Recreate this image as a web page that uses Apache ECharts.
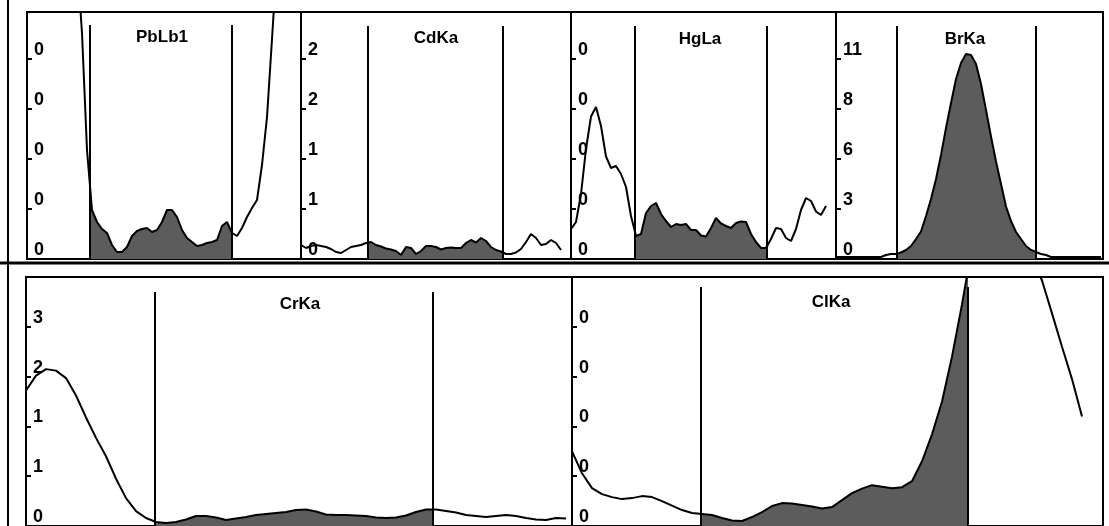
<!doctype html>
<html lang="en">
<head>
    <meta charset="UTF-8">
    <title>ROI spectra</title>
    <style>html,body{margin:0;padding:0;background:#fff;}</style>
</head>
<body>
    <div id="main" style="width:1109px;height:526px;"></div>
    <script src="https://cdn.jsdelivr.net/npm/echarts@6/dist/echarts.min.js"></script>
    <script>
        // counts per channel step, in units of one axis tick (values off scale run past the top)
        var pbCounts = [6, 6, 6, 6, 6, 6, 6, 6, 6, 6, 6, 4.52, 2.18, 0.98, 0.74, 0.6, 0.52, 0.28, 0.14, 0.14,
            0.24, 0.46, 0.56, 0.6, 0.62, 0.54, 0.58, 0.74, 0.98, 0.98, 0.84, 0.58, 0.42, 0.34, 0.26, 0.28,
            0.32, 0.34, 0.38, 0.66, 0.74, 0.52, 0.46, 0.62, 0.84, 1.02, 1.18, 1.88, 2.84, 4.4, 6, 6, 6, 6, 6];
        var cdCounts = [0.28, 0.22, 0.26, 0.28, 0.26, 0.24, 0.2, 0.14, 0.12, 0.18, 0.24, 0.26, 0.28, 0.32,
            0.34, 0.28, 0.25, 0.21, 0.19, 0.16, 0.08, 0.24, 0.22, 0.1, 0.16, 0.26, 0.26, 0.24, 0.19, 0.22,
            0.23, 0.22, 0.22, 0.32, 0.38, 0.33, 0.42, 0.36, 0.24, 0.18, 0.15, 0.1, 0.1, 0.13, 0.2, 0.34,
            0.5, 0.42, 0.28, 0.3, 0.38, 0.32, 0.18];
        var hgCounts = [0.6, 0.74, 1.3, 2.2, 2.85, 3.04, 2.66, 2.05, 1.82, 1.86, 1.7, 1.44, 0.86, 0.46, 0.5,
            0.92, 1.06, 1.12, 0.9, 0.76, 0.64, 0.7, 0.68, 0.7, 0.58, 0.58, 0.47, 0.45, 0.62, 0.82, 0.71,
            0.66, 0.62, 0.72, 0.75, 0.74, 0.5, 0.34, 0.22, 0.22, 0.4, 0.62, 0.6, 0.42, 0.36, 0.6, 0.98,
            1.22, 1.16, 0.95, 0.88, 1.06];
        var brCounts = [0.04, 0.04, 0.04, 0.04, 0.04, 0.04, 0.04, 0.04, 0.04, 0.04, 0.08, 0.1, 0.1, 0.13,
            0.18, 0.26, 0.4, 0.55, 0.86, 1.2, 1.6, 2.08, 2.62, 3.12, 3.6, 3.92, 4.1, 4.08, 3.9, 3.5, 2.98,
            2.45, 1.95, 1.5, 1.05, 0.76, 0.54, 0.4, 0.26, 0.18, 0.14, 0.1, 0.08, 0.04, 0.04, 0.04, 0.04,
            0.04, 0.04, 0.04, 0.04, 0.04, 0.04, 0.04];
        var crCounts = [2.72, 3.02, 3.15, 3.12, 2.97, 2.62, 2.18, 1.77, 1.4, 0.95, 0.56, 0.3, 0.16, 0.08,
            0.06, 0.08, 0.13, 0.2, 0.2, 0.17, 0.12, 0.15, 0.18, 0.22, 0.24, 0.26, 0.28, 0.32, 0.33, 0.29,
            0.23, 0.22, 0.22, 0.21, 0.2, 0.17, 0.16, 0.17, 0.21, 0.28, 0.33, 0.33, 0.3, 0.27, 0.22, 0.2,
            0.18, 0.2, 0.22, 0.2, 0.16, 0.13, 0.12, 0.16, 0.15];
        var clCounts = [1.5, 1.06, 0.76, 0.64, 0.58, 0.54, 0.56, 0.6, 0.58, 0.5, 0.41, 0.32, 0.26, 0.24,
            0.22, 0.16, 0.11, 0.1, 0.18, 0.28, 0.4, 0.46, 0.45, 0.42, 0.39, 0.35, 0.38, 0.52, 0.66, 0.75,
            0.82, 0.79, 0.76, 0.78, 0.9, 1.3, 1.84, 2.5, 3.4, 4.45, 5.6, 6.5, 7, 7, 6.6, 6, 5.4, 4.93,
            4.27, 3.6, 2.95, 2.2];

        // region of interest bounds, in channel steps
        var pbRoi = [12.6, 41];
        var cdRoi = [13.4, 40.4];
        var hgRoi = [12.8, 39.2];
        var brRoi = [12.2, 40];
        var crRoi = [12.9, 40.7];
        var clRoi = [12.9, 39.6];

        // tick labels from bottom to top, as printed on the screen
        var pbTicks = ['0', '0', '0', '0', '0'];
        var cdTicks = ['0', '1', '1', '2', '2'];
        var hgTicks = ['0', '0', '0', '0', '0'];
        var brTicks = ['0', '3', '6', '8', '11'];
        var crTicks = ['0', '1', '1', '2', '3'];
        var clTicks = ['0', '0', '0', '0', '0'];

        var lineNames = ['PbLb1', 'CdKa', 'HgLa', 'BrKa', 'CrKa', 'ClKa'];

        var panels = [
            { counts: pbCounts, roi: pbRoi, ticks: pbTicks, left: 27, top: 12, width: 274, height: 247, step: 5, yMax: 4.94, markTop: 4.68, tx: 162, ty: 37 },
            { counts: cdCounts, roi: cdRoi, ticks: cdTicks, left: 301, top: 12, width: 270, height: 247, step: 5, yMax: 4.94, markTop: 4.66, tx: 436, ty: 38 },
            { counts: hgCounts, roi: hgRoi, ticks: hgTicks, left: 571, top: 12, width: 265, height: 247, step: 5, yMax: 4.94, markTop: 4.66, tx: 700, ty: 39 },
            { counts: brCounts, roi: brRoi, ticks: brTicks, left: 836, top: 12, width: 267, height: 247, step: 5, yMax: 4.94, markTop: 4.66, tx: 965, ty: 39 },
            { counts: crCounts, roi: crRoi, ticks: crTicks, left: 26, top: 277, width: 546, height: 251, step: 10, yMax: 5, markTop: 4.7, tx: 300, ty: 304 },
            { counts: clCounts, roi: clRoi, ticks: clTicks, left: 572, top: 277, width: 531, height: 251, step: 10, yMax: 5, markTop: 4.8, tx: 831, ty: 302 }
        ];

        var font = '"Liberation Sans", Arial, sans-serif';
        var fillGrey = '#5c5c5c';

        var myChart = echarts.init(document.getElementById('main'));

        var grid = [], xAxis = [], yAxis = [], series = [], visualMap = [], graphic = [];

        panels.forEach(function (p, k) {
            var data = p.counts.map(function (v, i) { return [i, v]; });
            grid.push({
                left: p.left, top: p.top, width: p.width, height: p.height,
                show: true, backgroundColor: '#fff', borderColor: '#000', borderWidth: 2
            });
            xAxis.push({ type: 'value', gridIndex: k, min: 0, max: p.width / p.step, show: false });
            yAxis.push({
                type: 'value', gridIndex: k, min: 0, max: p.yMax, interval: 1,
                axisLine: { show: false },
                splitLine: { show: false },
                axisTick: { show: true, inside: true, length: 5, lineStyle: { color: '#000', width: 2 } },
                axisLabel: {
                    inside: true, margin: 7, align: 'left', verticalAlign: 'bottom',
                    color: '#000', fontSize: 18, fontWeight: 'bold', fontFamily: font,
                    formatter: function (v) {
                        var n = Math.round(v);
                        return Math.abs(v - n) < 1e-6 && p.ticks[n] !== undefined ? p.ticks[n] : '';
                    }
                }
            });
            // filled part (only inside the ROI, via visualMap)
            series.push({
                type: 'line', xAxisIndex: k, yAxisIndex: k, data: data,
                showSymbol: false, silent: true, z: 2,
                lineStyle: { width: 0 },
                areaStyle: { opacity: 1 }
            });
            // spectrum line with ROI markers
            series.push({
                name: lineNames[k],
                type: 'line', xAxisIndex: k, yAxisIndex: k, data: data,
                showSymbol: false, silent: true, z: 3,
                lineStyle: { color: '#000', width: 2 },
                itemStyle: { color: '#000' },
                markLine: {
                    silent: true, symbol: ['none', 'none'], label: { show: false },
                    lineStyle: { color: '#000', width: 2, type: 'solid' },
                    data: p.roi.map(function (r) {
                        return [{ coord: [r, 0] }, { coord: [r, p.markTop] }];
                    })
                }
            });
            visualMap.push({
                type: 'piecewise', show: false, seriesIndex: 2 * k, dimension: 0,
                pieces: [{ gte: p.roi[0], lte: p.roi[1], color: fillGrey }],
                outOfRange: { color: 'rgba(0,0,0,0)' }
            });
            graphic.push({
                type: 'text', x: p.tx, y: p.ty, z: 10,
                style: { text: lineNames[k], fill: '#000', font: 'bold 17px ' + font, align: 'center', verticalAlign: 'middle' }
            });
        });

        // screen frame
        graphic.push({ type: 'line', shape: { x1: 8, y1: 0, x2: 8, y2: 526 }, style: { stroke: '#000', lineWidth: 2 } });
        graphic.push({ type: 'line', shape: { x1: 0, y1: 263, x2: 1109, y2: 263 }, style: { stroke: '#000', lineWidth: 3 } });

        option = {
            animation: false,
            backgroundColor: '#fff',
            grid: grid,
            xAxis: xAxis,
            yAxis: yAxis,
            visualMap: visualMap,
            series: series,
            graphic: graphic
        };

        myChart.setOption(option);
    </script>
</body>
</html>
